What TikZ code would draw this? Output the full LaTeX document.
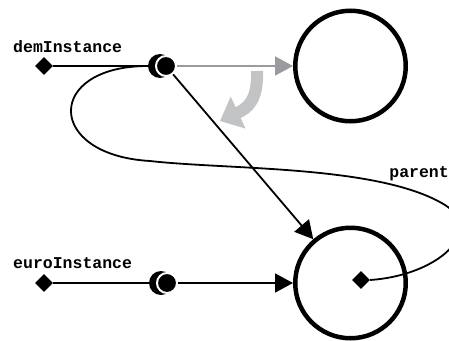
\documentclass[tikz,border=0pt]{standalone}
\usepackage{fontspec}
\setmonofont{Liberation Mono}
\usepackage{tikz}
\usetikzlibrary{arrows.meta,shapes.geometric}
\definecolor{linkgray}{HTML}{9A9B9E}
\definecolor{turngray}{HTML}{C2C3C5}

\begin{document}
\begin{tikzpicture}[x=1pt,y=-1pt,>={Triangle[length=18pt,width=19pt]},
  key/.style={diamond,fill=black,inner sep=0pt,minimum size=18pt},
  moon/.style={circle,fill=black,inner sep=0pt,minimum size=24pt},
  dot/.style={circle,fill=black,draw=white,line width=2pt,inner sep=0pt,minimum size=20pt},
  obj/.style={circle,draw=black,line width=4.5pt,inner sep=0pt,minimum size=110.5pt},
  lab/.style={font=\ttfamily\bfseries\fontsize{16.5}{18}\selectfont,inner sep=0pt},
  link/.style={line width=1.8pt}]
\useasboundingbox (0,0) rectangle (449,340);
%%%OBJECTS
\node[obj] (demobj) at (350.5,66) {};
\node[obj] (euroobj) at (350.5,283) {};
\node[key] (parentkey) at (361,280) {};
\node[lab,anchor=east] (parentlabel) at (449,174) {parent};
%%%VARIABLES
\node[lab,anchor=west] (demlabel) at (13,47) {demInstance};
\node[key] (demkey) at (44,66) {};
\node[moon] (demmoon) at (160,66) {};
\node[dot] (demdot) at (166,66) {};
\node[lab,anchor=west] (eurolabel) at (13,263) {euroInstance};
\node[key] (eurokey) at (44,283) {};
\node[moon] (euromoon) at (161,283) {};
\node[dot] (eurodot) at (167,283) {};
%%%REFERENCES
\draw[link] (demkey) -- (demmoon);
\draw[link] (eurokey) -- (euromoon);
\draw[link,->,linkgray] (demdot) -- (demobj);
\draw[link,->] (demdot) -- (euroobj);
\draw[link,->] (eurodot) -- (euroobj);
\draw[link] (demmoon.west) .. controls (45,66) and (45,155) .. (150,161)
  .. controls (230,170) and (380,165) .. (445,205)
  .. controls (485,230) and (440,275) .. (parentkey.east);
%%%REASSIGNMENT
\coordinate (turnstart) at (257,71);
\coordinate (turnend) at (220,121);
\draw[line width=12pt,turngray,-{Triangle[length=20pt,width=34pt]}] (turnstart) .. controls (258,100) and (248,108) .. (turnend);
\end{tikzpicture}
\end{document}
